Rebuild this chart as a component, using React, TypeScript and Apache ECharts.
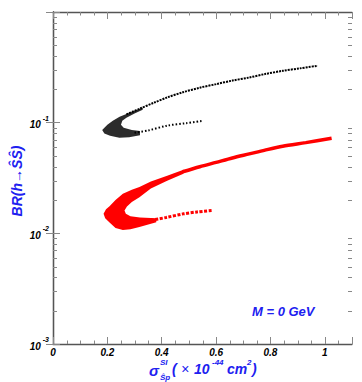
import React, { useEffect, useRef } from "react";
import * as echarts from "echarts";

// ---- data ----
const blackUpper: number[][] = [
  [0.27, 0.119], [0.32, 0.134], [0.37, 0.151], [0.42, 0.169], [0.477, 0.188],
  [0.54, 0.207], [0.6, 0.223], [0.66, 0.24], [0.722, 0.256], [0.78, 0.275],
  [0.845, 0.294], [0.91, 0.31], [0.974, 0.327],
];
const blackLower: number[][] = [
  [0.3, 0.081], [0.35, 0.085], [0.42, 0.094], [0.49, 0.099], [0.55, 0.104],
];
const blackCore: number[][] = [
  [0.181, 0.086], [0.2, 0.096], [0.22, 0.104], [0.245, 0.113], [0.27, 0.12], [0.3, 0.128], [0.33, 0.137],
  [0.33, 0.131], [0.3, 0.121], [0.27, 0.111], [0.255, 0.104], [0.25, 0.096], [0.26, 0.09], [0.29, 0.086], [0.32, 0.084],
  [0.32, 0.077], [0.28, 0.074], [0.244, 0.073], [0.21, 0.076], [0.189, 0.08],
];
const redUpper: number[][] = [
  [0.477, 0.036], [0.54, 0.04], [0.6, 0.0438], [0.66, 0.048], [0.722, 0.0522],
  [0.78, 0.0565], [0.845, 0.0612], [0.93, 0.066], [1.025, 0.0722],
];
const redLower: number[][] = [
  [0.36, 0.0131], [0.416, 0.0139], [0.48, 0.015], [0.53, 0.0156], [0.588, 0.0161],
];
const redCore: number[][] = [
  [0.186, 0.015], [0.195, 0.0165], [0.208, 0.0176], [0.23, 0.02], [0.257, 0.0228], [0.29, 0.0247], [0.318, 0.0262],
  [0.36, 0.0294], [0.42, 0.0332], [0.48, 0.0375],
  [0.48, 0.0346], [0.42, 0.0299], [0.36, 0.0254], [0.318, 0.0212], [0.29, 0.0192], [0.272, 0.0175], [0.263, 0.0161],
  [0.268, 0.015], [0.285, 0.0143], [0.32, 0.0139], [0.38, 0.0137],
  [0.38, 0.0126], [0.318, 0.0114], [0.285, 0.0109], [0.257, 0.0107], [0.23, 0.0112], [0.208, 0.0125], [0.192, 0.0137],
];
const xMinorTicks: number[] = [0.05, 0.1, 0.15, 0.25, 0.3, 0.35, 0.45, 0.5, 0.55, 0.65, 0.7, 0.75, 0.85, 0.9, 0.95, 1.05];
const yMinorTicks: number[] = [
  0.002, 0.003, 0.004, 0.005, 0.006, 0.007, 0.008, 0.009,
  0.02, 0.03, 0.04, 0.05, 0.06, 0.07, 0.08, 0.09,
  0.2, 0.3, 0.4, 0.5, 0.6, 0.7, 0.8, 0.9,
];

const FONT = "Liberation Sans, Arial, Helvetica, sans-serif";
const BLUE = "#2020f0";
const FRAME = "#555";
const TICK = "#888";

const blueText = (x: number, y: number, text: string, size: number, weight: string = "bold") => ({
  type: "text",
  x,
  y,
  style: {
    text,
    fontSize: size,
    fontWeight: weight,
    fontStyle: "italic",
    fontFamily: FONT,
    fill: BLUE,
    verticalAlign: "middle",
    align: "left",
  },
});

export default function App() {
  const ref = useRef<HTMLDivElement>(null);
  useEffect(() => {
    if (!ref.current) return;
    const chart = echarts.init(ref.current, undefined, { renderer: "svg" });

    const polygonItem = (pts: number[][], fill: string, opacity: number) => (params: any, api: any) => {
      if (params.dataIndex !== 0) return null;
      return {
        type: "polygon",
        shape: { points: pts.map((p) => api.coord(p)) },
        style: { fill, opacity },
      };
    };

    const xTickLabel = (v: number) => {
      if (v > 1.05) return "";
      if (v === 0) return "0";
      return String(Number(v.toFixed(1)));
    };
    const yTickLabel = (v: number) => {
      const e = Math.round(Math.log10(v));
      if (e >= 0) return "";
      return `{a|10}{b|${e}}`;
    };

    const baseX = {
      type: "value",
      min: 0,
      max: 1.1,
      interval: 0.2,
      axisLine: { show: true, lineStyle: { color: FRAME, width: 1.3 } },
      axisTick: { show: true, inside: true, length: 7, lineStyle: { color: TICK } },
      splitLine: { show: false },
    };
    const baseY = {
      type: "log",
      logBase: 10,
      min: 0.001,
      max: 1,
      axisLine: { show: true, lineStyle: { color: FRAME, width: 1.3 } },
      axisTick: { show: true, inside: true, length: 7, lineStyle: { color: TICK } },
      splitLine: { show: false },
    };

    chart.setOption({
      animation: false,
      backgroundColor: "#fff",
      grid: { left: 53, right: 10, top: 12, bottom: 38, containLabel: false },
      xAxis: [
        {
          ...baseX,
          position: "bottom",
          axisLabel: {
            formatter: xTickLabel,
            fontSize: 10,
            fontWeight: "bold",
            fontStyle: "italic",
            fontFamily: FONT,
            color: "#000",
            margin: 3,
          },
        },
        { ...baseX, position: "top", axisLabel: { show: false } },
      ],
      yAxis: [
        {
          ...baseY,
          position: "left",
          axisLabel: {
            formatter: yTickLabel,
            margin: 4,
            rich: {
              a: { fontSize: 10, fontWeight: "bold", fontStyle: "italic", fontFamily: FONT, color: "#000", lineHeight: 16, padding: [4, 0, 0, 0] },
              b: { fontSize: 7, fontWeight: "bold", fontStyle: "italic", fontFamily: FONT, color: "#000", verticalAlign: "top", lineHeight: 9, padding: [0, 0, 0, 2] },
            },
          },
        },
        { ...baseY, position: "right", axisLabel: { show: false } },
      ],
      series: [
        {
          type: "custom",
          name: "minorTicks",
          silent: true,
          clip: false,
          data: [[0.5, 0.01]],
          renderItem: (params: any, api: any) => {
            const cs = params.coordSys;
            const children: any[] = [];
            const st = { stroke: TICK, lineWidth: 1 };
            xMinorTicks.forEach((v) => {
              const px = Math.round(api.coord([v, 0.01])[0]) + 0.5;
              children.push({ type: "line", shape: { x1: px, y1: cs.y + cs.height, x2: px, y2: cs.y + cs.height - 3.5 }, style: st });
              children.push({ type: "line", shape: { x1: px, y1: cs.y, x2: px, y2: cs.y + 3.5 }, style: st });
            });
            yMinorTicks.forEach((v) => {
              const py = Math.round(api.coord([0.5, v])[1]) + 0.5;
              children.push({ type: "line", shape: { x1: cs.x, y1: py, x2: cs.x + 4, y2: py }, style: st });
              children.push({ type: "line", shape: { x1: cs.x + cs.width, y1: py, x2: cs.x + cs.width - 4, y2: py }, style: st });
            });
            return { type: "group", children };
          },
        },
        {
          type: "custom",
          name: "blackCore",
          silent: true,
          data: blackCore,
          renderItem: polygonItem(blackCore, "#1a1a1a", 0.92),
        },
        {
          type: "custom",
          name: "redCore",
          silent: true,
          data: redCore,
          renderItem: polygonItem(redCore, "#ff0000", 1),
        },
        {
          type: "line",
          name: "blackUpper",
          data: blackUpper,
          smooth: 0.3,
          symbol: "none",
          lineStyle: { color: "#000", width: 2, type: [2, 1] },
        },
        {
          type: "line",
          name: "blackLower",
          data: blackLower,
          smooth: 0.3,
          symbol: "none",
          lineStyle: { color: "#000", width: 2, type: [1.5, 2] },
        },
        {
          type: "line",
          name: "redUpper",
          data: redUpper,
          smooth: 0.3,
          symbol: "none",
          lineStyle: { color: "#ff0000", width: 3.5, type: "solid" },
        },
        {
          type: "line",
          name: "redLower",
          data: redLower,
          smooth: 0.3,
          symbol: "none",
          lineStyle: { color: "#ff0000", width: 3, type: [3, 1.5] },
        },
      ],
      graphic: [
        blueText(252, 311, "M = 0 GeV", 13),
        {
          type: "text",
          x: 17,
          y: 181,
          rotation: Math.PI / 2,
          style: {
            text: "BR(h\u2192\u015C\u015C)",
            fontSize: 14,
            fontWeight: "bold",
            fontStyle: "italic",
            fontFamily: FONT,
            fill: BLUE,
            align: "center",
            verticalAlign: "middle",
          },
        },
        blueText(149, 370, "\u03C3", 15),
        blueText(160, 362.5, "SI", 8),
        blueText(160, 377, "\u015Cp", 8),
        blueText(172, 369, "(", 14),
        blueText(181, 369, "\u00D7", 14, "normal"),
        blueText(194, 369, "10", 14),
        blueText(212, 362.5, "-44", 8),
        blueText(227, 369, "cm", 14),
        blueText(247, 362.5, "2", 8),
        blueText(252, 369, ")", 14),
      ],
    });
    return () => chart.dispose();
  }, []);
  return <div ref={ref} style={{ position: "fixed", left: 0, top: 0, width: 362, height: 382 }} />;
}
